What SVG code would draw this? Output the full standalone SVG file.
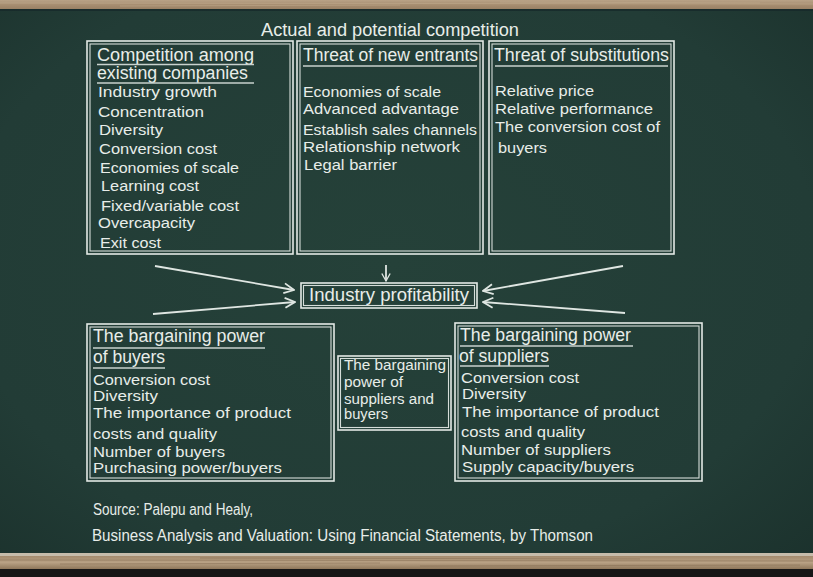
<svg xmlns="http://www.w3.org/2000/svg" width="813" height="577" viewBox="0 0 813 577">
<defs>
<radialGradient id="board" cx="0.48" cy="0.45" r="0.75">
<stop offset="0" stop-color="#254139"/>
<stop offset="0.7" stop-color="#223c36"/>
<stop offset="1" stop-color="#1b312c"/>
</radialGradient>
<linearGradient id="wood" x1="0" y1="0" x2="0" y2="1">
<stop offset="0" stop-color="#b9a387"/>
<stop offset="0.5" stop-color="#a88f72"/>
<stop offset="1" stop-color="#9a8164"/>
</linearGradient>
<linearGradient id="wood2" x1="0" y1="0" x2="0" y2="1">
<stop offset="0" stop-color="#a48b6e"/>
<stop offset="0.5" stop-color="#b8a184"/>
<stop offset="1" stop-color="#8f775b"/>
</linearGradient>
<marker id="chev" viewBox="-1 -6 12 12" markerWidth="12" markerHeight="12" refX="10" refY="0" orient="auto" markerUnits="userSpaceOnUse">
<path d="M0,-5 L10,0 L0,5" fill="none" stroke="#dfe6e2" stroke-width="1.8" stroke-linejoin="miter"/>
</marker>
<marker id="chevs" viewBox="-1 -6 12 12" markerWidth="10" markerHeight="10" refX="9" refY="0" orient="auto" markerUnits="userSpaceOnUse">
<path d="M0,-5 L9,0 L0,5" fill="none" stroke="#dfe6e2" stroke-width="1.6"/>
</marker>
</defs>
<style>
text{font-family:"Liberation Sans",Arial,sans-serif;fill:#e8ede9;}
.h{font-size:18px;}
.t{font-size:15.5px;}
.m{font-size:14px;}
.s{font-size:16px;}
.o{fill:none;stroke:#e3e9e5;stroke-width:1.6;}
.i{fill:none;stroke:#d5ddd9;stroke-width:1.1;}
.u{stroke:#c9d2ce;stroke-width:1.4;}
.c{stroke:#dfe6e2;stroke-width:1.8;fill:none;}
</style>
<!-- board -->
<rect x="0" y="0" width="813" height="577" fill="url(#board)"/>
<rect x="0" y="0" width="813" height="9" fill="url(#wood)"/>
<rect x="0" y="9" width="813" height="2" fill="#17292a" opacity="0.8"/>
<path d="M0,3 L813,4 M120,6 L400,5 M500,2 L760,3" stroke="#c8b496" stroke-width="0.8" opacity="0.5"/>
<rect x="0" y="553" width="813" height="3" fill="#c6bcab"/>
<rect x="0" y="556" width="813" height="13" fill="url(#wood2)"/>
<path d="M0,560 L813,561 M60,564 L380,563 M420,566 L800,565 M200,558 L640,559" stroke="#7e664c" stroke-width="0.8" opacity="0.5"/>
<rect x="0" y="569" width="813" height="8" fill="#161616"/>

<text x="390" y="36" text-anchor="middle" class="h" textLength="258" lengthAdjust="spacingAndGlyphs">Actual and potential competition</text>

<g id="rivalry">
<rect x="87" y="41" width="206" height="213" class="o"/>
<rect x="90" y="44" width="200" height="207" class="i"/>
<text x="97" y="61" class="h" textLength="157" lengthAdjust="spacingAndGlyphs">Competition among</text>
<line x1="97" y1="64.5" x2="254" y2="64.5" class="u"/>
<text x="97" y="79" class="h" textLength="151" lengthAdjust="spacingAndGlyphs">existing companies</text>
<line x1="97" y1="83" x2="254" y2="83" class="u"/>
<text x="98" y="97" class="t" textLength="119" lengthAdjust="spacingAndGlyphs">Industry growth</text>
<text x="98" y="117" class="t" textLength="106" lengthAdjust="spacingAndGlyphs">Concentration</text>
<text x="99" y="135" class="t" textLength="64" lengthAdjust="spacingAndGlyphs">Diversity</text>
<text x="99" y="154" class="t" textLength="118" lengthAdjust="spacingAndGlyphs">Conversion cost</text>
<text x="100" y="173" class="t" textLength="139" lengthAdjust="spacingAndGlyphs">Economies of scale</text>
<text x="101" y="191" class="t" textLength="98" lengthAdjust="spacingAndGlyphs">Learning cost</text>
<text x="101" y="211" class="t" textLength="138" lengthAdjust="spacingAndGlyphs">Fixed/variable cost</text>
<text x="98" y="228" class="t" textLength="97" lengthAdjust="spacingAndGlyphs">Overcapacity</text>
<text x="100" y="248" class="t" textLength="61" lengthAdjust="spacingAndGlyphs">Exit cost</text>
</g>

<g id="entrants">
<rect x="297" y="41" width="186" height="213" class="o"/>
<rect x="300" y="44" width="180" height="207" class="i"/>
<text x="303" y="61" class="h" textLength="175" lengthAdjust="spacingAndGlyphs">Threat of new entrants</text>
<line x1="303" y1="66" x2="477" y2="66" class="u"/>
<text x="303" y="97" class="t" textLength="138" lengthAdjust="spacingAndGlyphs">Economies of scale</text>
<text x="303" y="114" class="t" textLength="156" lengthAdjust="spacingAndGlyphs">Advanced advantage</text>
<text x="303" y="135" class="t" textLength="174" lengthAdjust="spacingAndGlyphs">Establish sales channels</text>
<text x="303" y="152" class="t" textLength="157" lengthAdjust="spacingAndGlyphs">Relationship network</text>
<text x="304" y="170" class="t" textLength="93" lengthAdjust="spacingAndGlyphs">Legal barrier</text>
</g>

<g id="substitutes">
<rect x="489" y="41" width="185" height="213" class="o"/>
<rect x="492" y="44" width="179" height="207" class="i"/>
<text x="494" y="61" class="h" textLength="175" lengthAdjust="spacingAndGlyphs">Threat of substitutions</text>
<line x1="495" y1="66" x2="668" y2="66" class="u"/>
<text x="495" y="96" class="t" textLength="99" lengthAdjust="spacingAndGlyphs">Relative price</text>
<text x="495" y="114" class="t" textLength="158" lengthAdjust="spacingAndGlyphs">Relative performance</text>
<text x="495" y="132" class="t" textLength="165" lengthAdjust="spacingAndGlyphs">The conversion cost of</text>
<text x="498" y="153" class="t" textLength="49" lengthAdjust="spacingAndGlyphs">buyers</text>
</g>

<g id="profitability">
<rect x="301" y="283" width="176" height="25" class="o"/>
<rect x="303.5" y="285.5" width="171" height="20" class="i"/>
<text x="309" y="301" class="h" textLength="160" lengthAdjust="spacingAndGlyphs">Industry profitability</text>
</g>

<g id="buyers">
<rect x="87" y="324" width="247" height="157" class="o"/>
<rect x="90" y="327" width="241" height="151" class="i"/>
<text x="93" y="342" class="h" textLength="172" lengthAdjust="spacingAndGlyphs">The bargaining power</text>
<line x1="93" y1="348" x2="265" y2="348" class="u"/>
<text x="93" y="363" class="h" textLength="72" lengthAdjust="spacingAndGlyphs">of buyers</text>
<line x1="93" y1="368" x2="165" y2="368" class="u"/>
<text x="93" y="385" class="t" textLength="117" lengthAdjust="spacingAndGlyphs">Conversion cost</text>
<text x="93" y="401" class="t" textLength="65" lengthAdjust="spacingAndGlyphs">Diversity</text>
<text x="93" y="418" class="t" textLength="198" lengthAdjust="spacingAndGlyphs">The importance of product</text>
<text x="93" y="439" class="t" textLength="124" lengthAdjust="spacingAndGlyphs">costs and quality</text>
<text x="93" y="457" class="t" textLength="132" lengthAdjust="spacingAndGlyphs">Number of buyers</text>
<text x="93" y="473" class="t" textLength="189" lengthAdjust="spacingAndGlyphs">Purchasing power/buyers</text>
</g>

<g id="both">
<rect x="338" y="356" width="113" height="74" class="o"/>
<rect x="340.5" y="358.5" width="108" height="69" class="i"/>
<text x="344" y="370" class="m" textLength="102" lengthAdjust="spacingAndGlyphs">The bargaining</text>
<text x="344" y="387" class="m" textLength="59" lengthAdjust="spacingAndGlyphs">power of</text>
<text x="344" y="404" class="m" textLength="90" lengthAdjust="spacingAndGlyphs">suppliers and</text>
<text x="344" y="419" class="m" textLength="44" lengthAdjust="spacingAndGlyphs">buyers</text>
</g>

<g id="suppliers">
<rect x="455" y="323" width="247" height="158" class="o"/>
<rect x="458" y="326" width="241" height="152" class="i"/>
<text x="460" y="341" class="h" textLength="171" lengthAdjust="spacingAndGlyphs">The bargaining power</text>
<line x1="460" y1="346" x2="633" y2="346" class="u"/>
<text x="459" y="362" class="h" textLength="90" lengthAdjust="spacingAndGlyphs">of suppliers</text>
<line x1="460" y1="366" x2="549" y2="366" class="u"/>
<text x="461" y="383" class="t" textLength="118" lengthAdjust="spacingAndGlyphs">Conversion cost</text>
<text x="462" y="399" class="t" textLength="64" lengthAdjust="spacingAndGlyphs">Diversity</text>
<text x="462" y="417" class="t" textLength="197" lengthAdjust="spacingAndGlyphs">The importance of product</text>
<text x="461" y="437" class="t" textLength="124" lengthAdjust="spacingAndGlyphs">costs and quality</text>
<text x="461" y="455" class="t" textLength="150" lengthAdjust="spacingAndGlyphs">Number of suppliers</text>
<text x="462" y="472" class="t" textLength="172" lengthAdjust="spacingAndGlyphs">Supply capacity/buyers</text>
</g>

<g id="connectors">
<line x1="155" y1="266" x2="294" y2="290" class="c" marker-end="url(#chev)"/>
<line x1="153" y1="314" x2="295" y2="302" class="c" marker-end="url(#chev)"/>
<line x1="623" y1="266" x2="483" y2="291" class="c" marker-end="url(#chev)"/>
<line x1="625" y1="313" x2="483" y2="302" class="c" marker-end="url(#chev)"/>
<line x1="386" y1="265" x2="386" y2="281" class="c" marker-end="url(#chevs)"/>
</g>

<text x="93" y="515" class="s" textLength="160" lengthAdjust="spacingAndGlyphs">Source: Palepu and Healy,</text>
<text x="92" y="541" class="s" textLength="501" lengthAdjust="spacingAndGlyphs">Business Analysis and Valuation: Using Financial Statements, by Thomson</text>
</svg>
